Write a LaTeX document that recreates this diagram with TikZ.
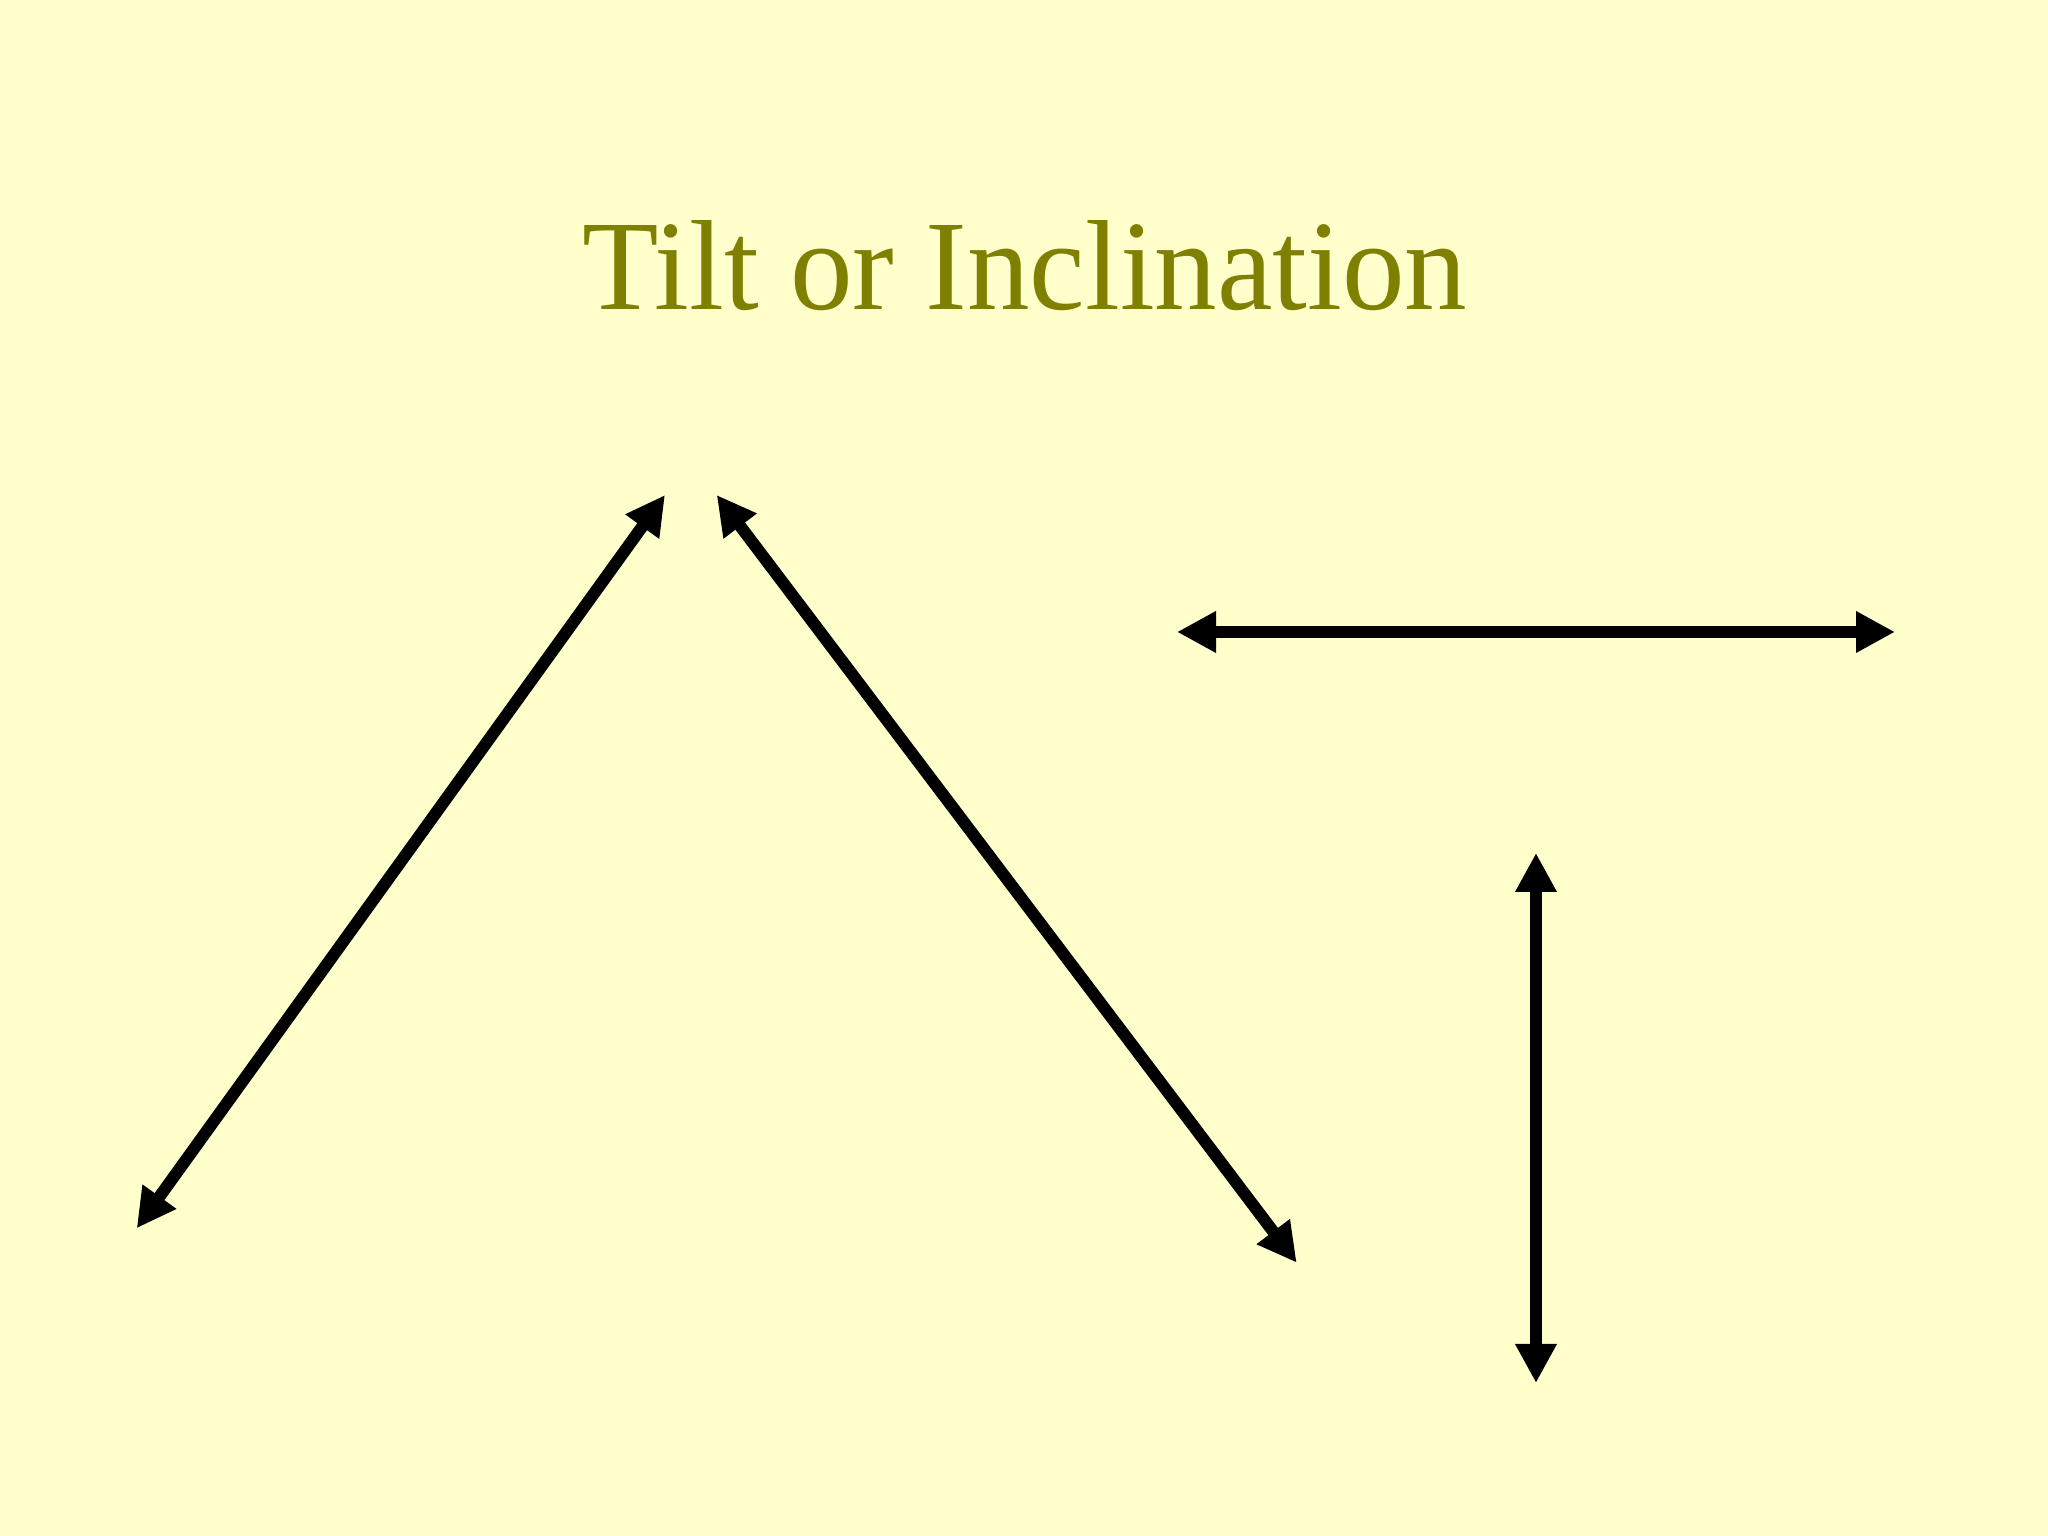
\documentclass[tikz,border=0pt]{standalone}
\usepackage{fontspec}
\setmainfont{Liberation Serif}
\usetikzlibrary{arrows.meta}
\definecolor{bgyellow}{HTML}{FFFFCC}
\definecolor{titleolive}{HTML}{808000}
\tikzset{
  dblarrow/.style={line width=0.12cm, draw=black, {Triangle[length=0.39cm,width=0.39cm]}-{Triangle[length=0.39cm,width=0.39cm]}},
  titletext/.style={text=titleolive, font=\fontsize{36.5}{40}\selectfont, inner sep=0pt, anchor=base, xscale=0.975}
}
\begin{document}
\begin{tikzpicture}
\fill[bgyellow] (0,0) rectangle (20.48,15.36);
\useasboundingbox (0,0) rectangle (20.48,15.36);
\node[titletext] (title) at (10.25,12.264) {Tilt or Inclination};
\coordinate (a1s) at (1.367,3.077);
\coordinate (a1e) at (6.65,10.41);
\coordinate (a2s) at (7.167,10.41);
\coordinate (a2e) at (12.967,2.733);
\coordinate (a3s) at (11.77,9.04);
\coordinate (a3e) at (18.95,9.04);
\coordinate (a4s) at (15.36,6.83);
\coordinate (a4e) at (15.36,1.53);
\draw[dblarrow] (a1s) -- (a1e);
\draw[dblarrow] (a2s) -- (a2e);
\draw[dblarrow] (a3s) -- (a3e);
\draw[dblarrow] (a4s) -- (a4e);
\end{tikzpicture}
\end{document}
